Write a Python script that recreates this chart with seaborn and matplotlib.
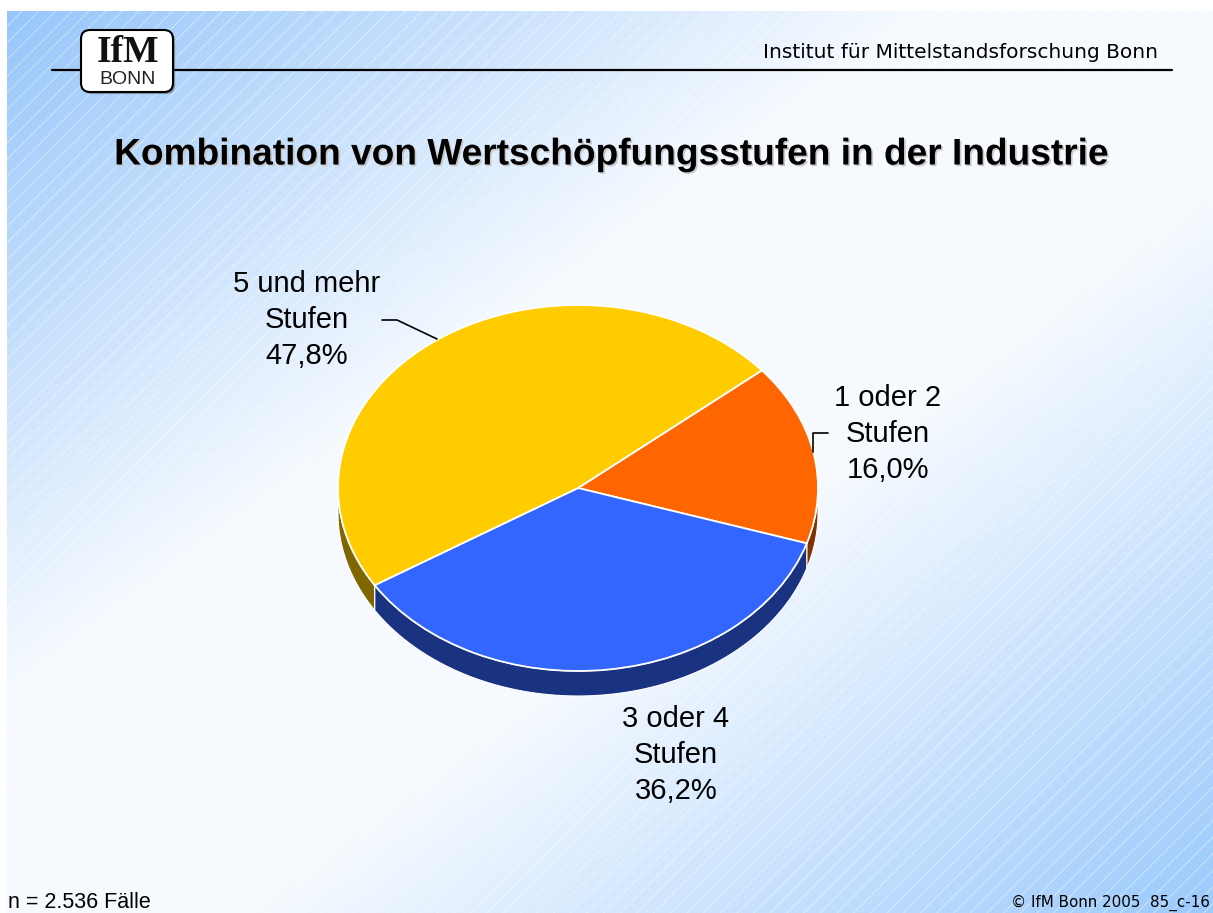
import numpy as np
import seaborn as sns
import matplotlib.pyplot as plt
import matplotlib.patheffects as pe
from matplotlib.patches import Polygon, Rectangle, FancyBboxPatch

# data
categories = ["1 oder 2\nStufen", "3 oder 4\nStufen", "5 und mehr\nStufen"]
shares = [16.0, 36.2, 47.8]
labels = ["16,0%", "36,2%", "47,8%"]
n_text = "n = 2.536 Fälle"

top_colors = ["#ff6600", "#3366ff", "#ffcc00"]
side_colors = ["#803300", "#1a3380", "#806600"]

sns.set_theme(style="white")
plt.rcParams['font.family'] = ['Liberation Sans', 'DejaVu Sans']
plt.rcParams['text.color'] = 'black'

W, H = 1213, 913
fig = plt.figure(figsize=(W / 100, H / 100), dpi=100)

# background in pixel coordinates
bg = fig.add_axes([0, 0, 1, 1])
bg.set_xlim(0, W)
bg.set_ylim(H, 0)
bg.axis("off")

xx, yy = np.meshgrid(np.linspace(0, 1, 300), np.linspace(0, 1, 300))
t = (xx + yy) / 2
stops = [0.0, 0.38, 0.6, 1.0]
cols = np.array([[150, 198, 250], [246, 250, 255], [246, 250, 255], [155, 202, 252]]) / 255
img = np.dstack([np.interp(t, stops, cols[:, k]) for k in range(3)])
bg.imshow(img, extent=(7, W, H, 11), aspect="auto", zorder=0)
plt.rcParams['hatch.linewidth'] = 0.8
bg.add_patch(Rectangle((7, 11), W - 7, H - 11, facecolor="none",
                       edgecolor=(1, 1, 1, 0.4), hatch="//", lw=0, zorder=1))

# header
bg.plot([52, 1172], [70, 70], color="black", lw=1.6, zorder=2)
bg.add_patch(FancyBboxPatch((81, 30), 92, 62, boxstyle="round,pad=0,rounding_size=9",
                            facecolor="white", edgecolor="black", lw=1.5, zorder=3,
                            path_effects=[pe.withSimplePatchShadow(offset=(1.5, -1.5), alpha=0.5)]))
bg.text(128, 52, "IfM", family="Liberation Serif", fontsize=27, fontweight="bold",
        ha="center", va="center", zorder=4, color="#111111")
bg.text(128, 80, "BONN", fontsize=14, ha="center", va="center", zorder=4, color="#222222")
bg.text(1158, 52, "Institut für Mittelstandsforschung Bonn", family="DejaVu Sans",
        fontsize=14.5, ha="right", va="center", zorder=4)

bg.text(612, 155, "Kombination von Wertschöpfungsstufen in der Industrie",
        fontsize=26.7, fontweight="bold", ha="center", va="center", zorder=4,
        path_effects=[pe.withSimplePatchShadow(offset=(1.2, -1.2), shadow_rgbFace="#c8c8c8", alpha=1)])

# footer
bg.text(8, 903, n_text, fontsize=15.5, ha="left", va="center", zorder=4)
bg.text(1210, 903, "© IfM Bonn 2005  85_c-16", family="DejaVu Sans", fontsize=10.9,
        ha="right", va="center", zorder=4)

# pie geometry in pixels
cx, cy, rx, ry, depth = 578, 488, 240, 183, 25
px0, px1, py0, py1 = 320, 840, 290, 715
ax = fig.add_axes([px0 / W, 1 - py1 / H, (px1 - px0) / W, (py1 - py0) / H])
wedges, _ = ax.pie(shares, colors=top_colors, startangle=40, counterclock=False,
                   radius=1, wedgeprops=dict(edgecolor="white", linewidth=1.3, zorder=3))
ax.set_aspect("auto")
ax.set_xlim((px0 - cx) / rx, (px1 - cx) / rx)
ax.set_ylim((cy - py1) / ry, (cy - py0) / ry)
d = depth / ry

# side walls of the visible (front) half
for w, sc in zip(wedges, side_colors):
    a1, a2 = sorted([w.theta1, w.theta2])
    for k in (-1, 0, 1):
        lo, hi = max(a1, 180 + 360 * k), min(a2, 360 + 360 * k)
        if hi <= lo:
            continue
        ang = np.radians(np.linspace(lo, hi, 80))
        top = np.column_stack([np.cos(ang), np.sin(ang)])
        bot = top[::-1] - [0, d]
        ax.add_patch(Polygon(np.vstack([top, bot]), closed=True, facecolor=sc,
                             edgecolor="white", lw=0.8, zorder=1))

# labels and leader lines
fs = 21
ls = 1.37
bg.text(888, 434, categories[0] + "\n" + labels[0], fontsize=fs, ha="center", va="center",
        linespacing=ls, zorder=4)
bg.text(676, 755, categories[1] + "\n" + labels[1], fontsize=fs, ha="center", va="center",
        linespacing=ls, zorder=4)
bg.text(307, 320, categories[2] + "\n" + labels[2], fontsize=fs, ha="center", va="center",
        linespacing=ls, zorder=4)
fig.add_artist(plt.Line2D([382 / W, 397 / W, 437 / W], [1 - 320 / H, 1 - 320 / H, 1 - 339 / H],
                          color="black", lw=1.2))
fig.add_artist(plt.Line2D([828 / W, 813 / W, 813 / W], [1 - 433 / H, 1 - 433 / H, 1 - 452 / H],
                          color="black", lw=1.2))

fig.savefig("out.png", dpi=100)
